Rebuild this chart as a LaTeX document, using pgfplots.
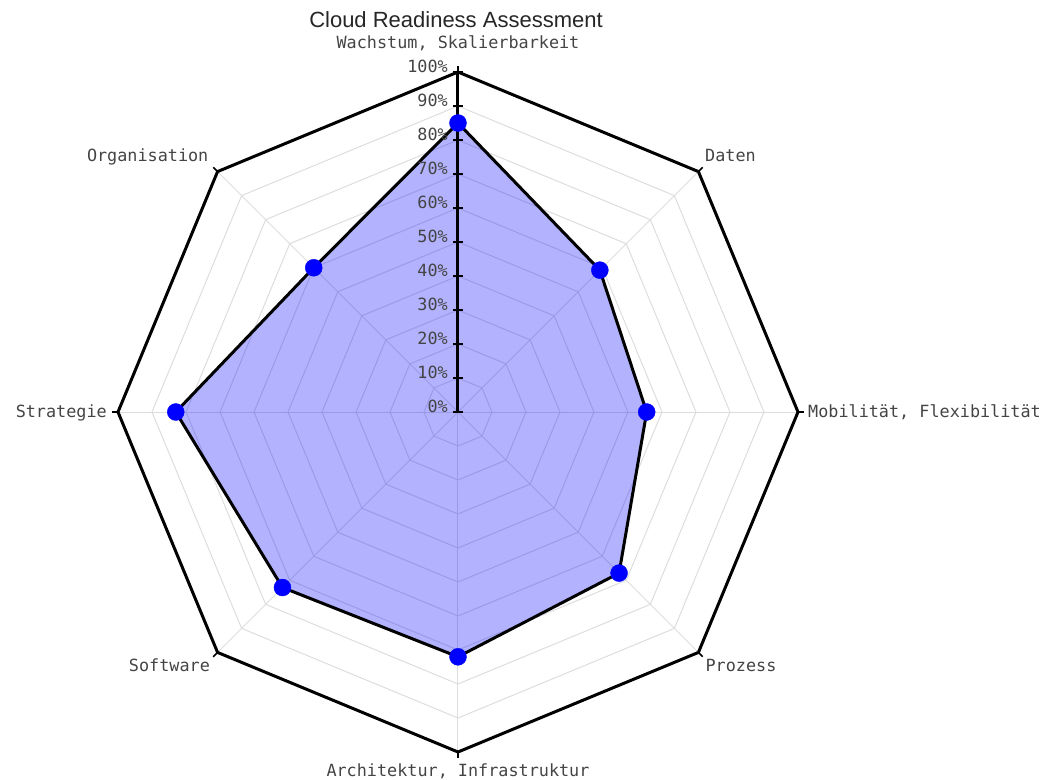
\documentclass[border=0pt]{standalone}
\usepackage{fontspec}
\setmainfont{Liberation Sans}
\setmonofont{DejaVu Sans Mono}
\usepackage{pgfplots}
\pgfplotsset{compat=1.18}
\usepgfplotslibrary{polar}
\usepackage{pgfplotstable}
\definecolor{txt}{HTML}{444444}
\definecolor{gridc}{HTML}{DDDDDD}
\newcommand\lab{\fontsize{16.8bp}{20bp}\selectfont\ttfamily}
\pgfplotstableread{
angle value
90 85
45 59
0 55.5
315 67
270 72
225 73
180 83
135 60
}\datatable
\begin{document}
\begin{tikzpicture}
\useasboundingbox (-458bp,-368bp) rectangle (586bp,412bp);
\begin{polaraxis}[
  at={(0,0)}, anchor=center,
  hide axis, clip=false,
  scale only axis, width=680bp, height=680bp,
  xmin=0, xmax=360, ymin=0, ymax=100,
]
% grid rings
\pgfplotsinvokeforeach{10,20,...,90}{
  \addplot[gridc, line width=1bp, mark=none] coordinates {(90,#1) (45,#1) (0,#1) (315,#1) (270,#1) (225,#1) (180,#1) (135,#1)} -- cycle;
}
% spokes
\pgfplotsinvokeforeach{0,45,...,315}{
  \addplot[gridc, line width=1bp, mark=none] coordinates {(#1,0) (#1,100)};
}
% outer octagon
\addplot[black, line width=3bp, mark=none, line join=miter] coordinates {(90,100) (45,100) (0,100) (315,100) (270,100) (225,100) (180,100) (135,100)} -- cycle;
% outer ticks
\pgfplotsinvokeforeach{0,45,...,315}{
  \addplot[black, line width=1.5bp, mark=none] coordinates {(#1,100) (#1,101.8)};
}
% data area
\addplot[draw=black, line width=3bp, fill=blue, fill opacity=0.3, mark=none] table[x=angle, y=value] {\datatable} -- cycle;
% radial axis
\addplot[black, line width=3bp, mark=none] coordinates {(90,0) (90,100)};
\addplot[only marks, mark=-, mark size=5bp, mark options={line width=1.5bp, black}] coordinates {(90,0) (90,10) (90,20) (90,30) (90,40) (90,50) (90,60) (90,70) (90,80) (90,90) (90,100)};
% markers
\addplot[only marks, mark=*, mark size=8.5bp, mark options={draw=blue, fill=blue}] table[x=angle, y=value] {\datatable};
% tick labels
\foreach \r in {0,10,...,100}{
  \edef\tmp{\noexpand\node[anchor=base east, xshift=-10bp, inner sep=0pt, font=\noexpand\lab, text=txt] at (axis cs:90,\r) {\r\noexpand\%};}
  \tmp
}
% category labels
\node[anchor=base, yshift=24bp, inner sep=0pt, font=\lab, text=txt] at (axis cs:90,100) {Wachstum, Skalierbarkeit};
\node[anchor=base west, xshift=6.6bp, yshift=10.5bp, inner sep=0pt, font=\lab, text=txt] at (axis cs:45,100) {Daten};
\node[anchor=base west, xshift=10bp, yshift=-5bp, inner sep=0pt, font=\lab, text=txt] at (axis cs:0,100) {Mobilität, Flexibilität};
\node[anchor=base west, xshift=7bp, yshift=-19bp, inner sep=0pt, font=\lab, text=txt] at (axis cs:315,100) {Prozess};
\node[anchor=base, yshift=-24bp, inner sep=0pt, font=\lab, text=txt] at (axis cs:270,100) {Architektur, Infrastruktur};
\node[anchor=base east, xshift=-7.5bp, yshift=-19bp, inner sep=0pt, font=\lab, text=txt] at (axis cs:225,100) {Software};
\node[anchor=base east, xshift=-11bp, yshift=-5bp, inner sep=0pt, font=\lab, text=txt] at (axis cs:180,100) {Strategie};
\node[anchor=base east, xshift=-9bp, yshift=10.5bp, inner sep=0pt, font=\lab, text=txt] at (axis cs:135,100) {Organisation};
\end{polaraxis}
\node[anchor=base, inner sep=0pt, font=\fontsize{22bp}{26bp}\selectfont, text=black!85] at (-2bp,384bp) {Cloud Readiness Assessment};
\end{tikzpicture}
\end{document}
